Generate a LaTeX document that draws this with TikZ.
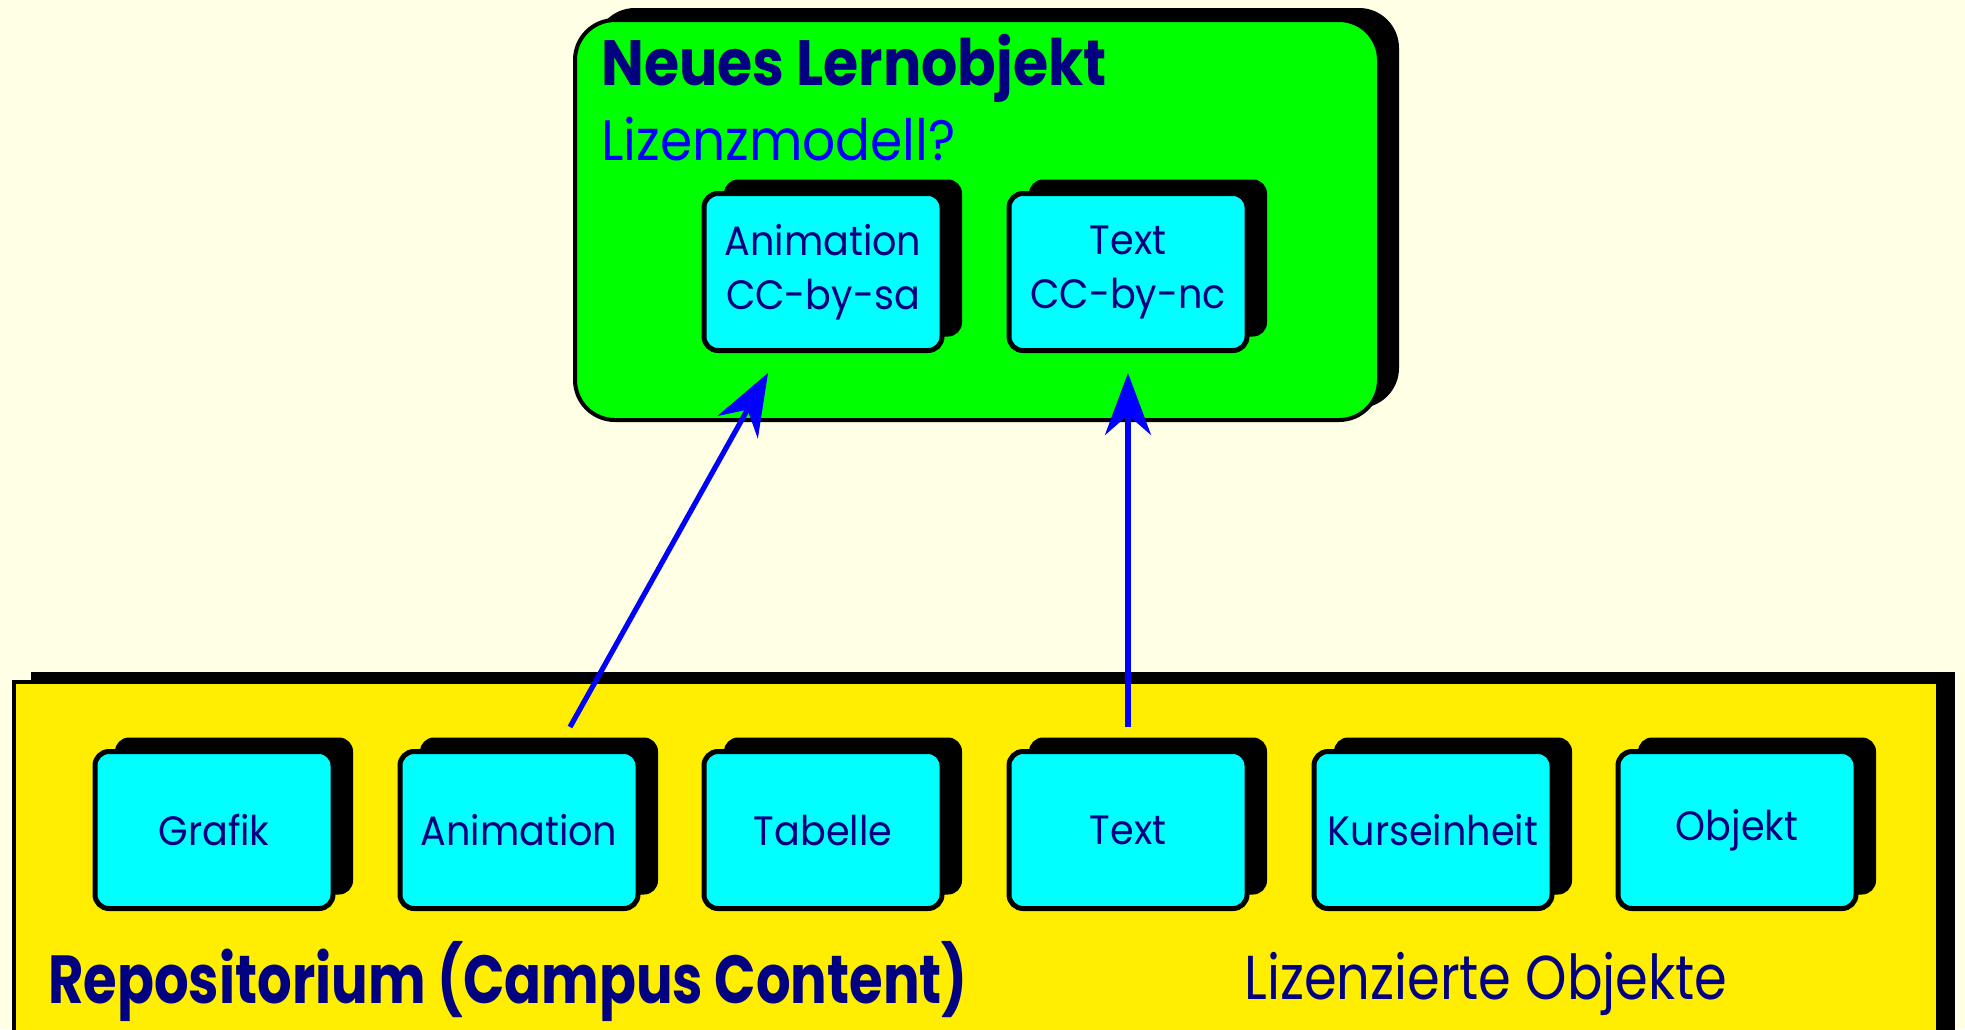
\documentclass[tikz,border=0pt]{standalone}
\usepackage{fontspec}
\setmainfont{Poppins}[FakeStretch=0.85]
\newfontfamily\titlefont{Poppins}[FakeStretch=0.89]
\newfontfamily\lizfont{Poppins}[FakeStretch=0.91]
\newfontfamily\repofont{Poppins}[FakeStretch=0.80]
\newfontfamily\boxfont{Poppins}[FakeStretch=0.93]
\usetikzlibrary{shadows,arrows.meta,calc}
\definecolor{bg}{RGB}{255,255,230}
\definecolor{navy}{RGB}{0,0,128}
\definecolor{ylw}{RGB}{255,238,0}
\definecolor{grn}{RGB}{0,255,0}
\definecolor{cyn}{RGB}{0,255,255}
\definecolor{blu}{RGB}{0,0,255}
\tikzset{
  objbox/.style={draw=black, line width=2.5pt, fill=cyn, rounded corners=7pt,
    minimum width=119pt, minimum height=78.5pt, inner sep=0pt,
    general shadow={fill=black, shadow xshift=10pt, shadow yshift=7pt},
    text=navy, font=\boxfont\fontsize{20.5}{27}\selectfont, align=center},
  arr/.style={draw=blu, line width=2.6pt, -{Stealth[length=31pt,width=23pt,inset=10pt]}},
}
\begin{document}
\begin{tikzpicture}[x=0.5pt,y=-0.5pt]
\fill[bg] (0,0) rectangle (1965,1029);
\useasboundingbox (0,0) rectangle (1965,1029);
\clip (0,0) rectangle (1965,1029);
% repository
\node[draw=black, line width=2pt, fill=ylw, anchor=north west,
  minimum width=962pt, minimum height=190pt,
  general shadow={fill=black, shadow xshift=8.5pt, shadow yshift=5pt}] (repo) at (12,680) {};
% new learning object
\node[draw=black, line width=2pt, fill=grn, rounded corners=20pt, anchor=north west,
  minimum width=402pt, minimum height=200pt,
  general shadow={fill=black, shadow xshift=10pt, shadow yshift=6pt}] (neu) at (573,18) {};
\node[anchor=base west, text=navy, font=\titlefont\fontsize{32}{36}\selectfont\bfseries, inner sep=0pt] (t1) at (601,85) {Neues Lernobjekt};
\node[anchor=base west, text=blu, font=\lizfont\fontsize{28.5}{32}\selectfont, inner sep=0pt] (t2) at (601,160) {Lizenzmodell?};
\node[objbox] (tanim) at (823,272) {Animation\\CC-by-sa};
\node[objbox] (ttext) at (1128,272) {Text\\CC-by-nc};
% objects
\node[objbox] (bgraf) at (214,830) {Grafik};
\node[objbox] (banim) at (519,830) {Animation};
\node[objbox] (btab) at (823,830) {Tabelle};
\node[objbox] (btext) at (1128,830) {Text};
\node[objbox] (bkurs) at (1433,830) {Kurseinheit};
\node[objbox] (bobj) at (1737,830) {Objekt};
\node[anchor=base west, text=navy, font=\repofont\fontsize{34}{38}\selectfont\bfseries, inner sep=0pt] (r1) at (48,1003) {Repositorium (Campus Content)};
\node[anchor=base west, text=navy, font=\fontsize{31}{34}\selectfont, inner sep=0pt] (r2) at (1244,999) {Lizenzierte Objekte};
% connectors
\coordinate (a1s) at ($(banim.north)+(51,-22)$);
\coordinate (a2s) at ($(btext.north)+(0,-22)$);
\draw[arr] (a1s) -- ($(tanim.south)+(-55,20)$);
\draw[arr] (a2s) -- ($(ttext.south)+(0,20)$);
\end{tikzpicture}
\end{document}
